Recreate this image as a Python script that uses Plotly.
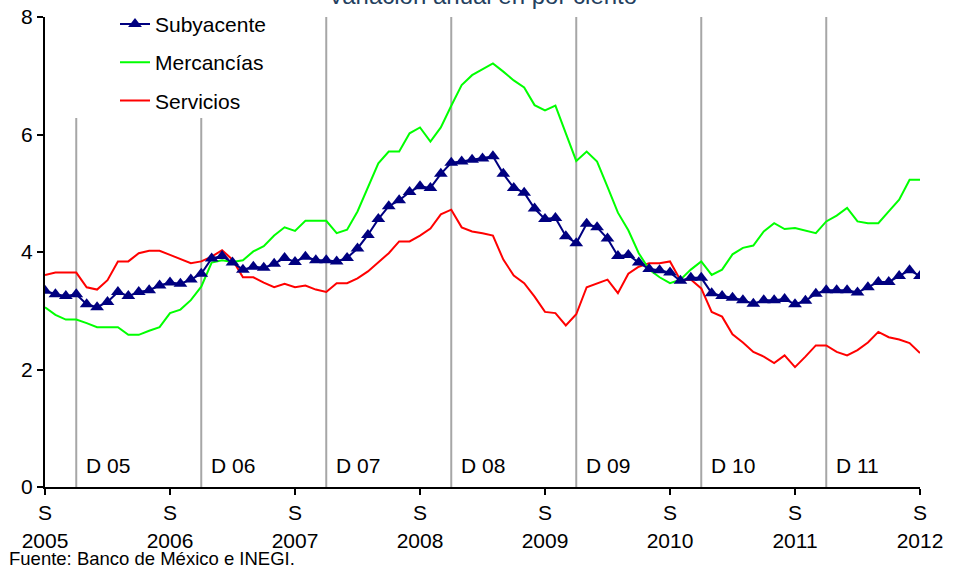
import pandas as pd
import plotly.graph_objects as go

# Monthly categories, Sep 2005 .. Sep 2012
months = list(pd.period_range("2005-09", "2012-09", freq="M").strftime("%Y-%m"))

subyacente = [3.34, 3.28, 3.25, 3.28, 3.11, 3.06, 3.15, 3.32, 3.25, 3.32, 3.35, 3.43,
              3.48, 3.46, 3.53, 3.63, 3.89, 3.93, 3.82, 3.70, 3.75, 3.73, 3.80, 3.90,
              3.83, 3.92, 3.86, 3.86, 3.84, 3.90, 4.06, 4.29, 4.56, 4.78, 4.88, 5.02,
              5.12, 5.09, 5.33, 5.52, 5.54, 5.57, 5.59, 5.63, 5.33, 5.09, 5.01, 4.74,
              4.56, 4.58, 4.27, 4.15, 4.48, 4.42, 4.23, 3.93, 3.95, 3.82, 3.71, 3.69,
              3.65, 3.51, 3.56, 3.56, 3.30, 3.25, 3.22, 3.18, 3.12, 3.18, 3.18, 3.20,
              3.11, 3.17, 3.29, 3.35, 3.35, 3.35, 3.31, 3.40, 3.49, 3.49, 3.59, 3.69,
              3.59]

mercancias = [3.06, 2.93, 2.85, 2.85, 2.79, 2.72, 2.72, 2.72, 2.59, 2.59, 2.66, 2.72,
              2.96, 3.02, 3.18, 3.41, 3.82, 3.86, 3.83, 3.86, 4.01, 4.10, 4.28, 4.42,
              4.36, 4.53, 4.53, 4.53, 4.32, 4.38, 4.69, 5.10, 5.51, 5.71, 5.71, 6.02,
              6.12, 5.88, 6.12, 6.49, 6.84, 7.01, 7.11, 7.21, 7.07, 6.92, 6.80, 6.50,
              6.41, 6.49, 6.02, 5.55, 5.71, 5.54, 5.11, 4.67, 4.37, 3.98, 3.70, 3.57,
              3.47, 3.53, 3.70, 3.84, 3.61, 3.70, 3.96, 4.07, 4.11, 4.35, 4.49, 4.39,
              4.41, 4.36, 4.32, 4.52, 4.62, 4.75, 4.52, 4.49, 4.49, 4.69, 4.89, 5.23,
              5.23]

servicios = [3.61, 3.65, 3.65, 3.65, 3.40, 3.36, 3.52, 3.84, 3.84, 3.98, 4.02, 4.02,
             3.95, 3.88, 3.81, 3.84, 3.92, 4.03, 3.87, 3.57, 3.57, 3.48, 3.40, 3.46,
             3.40, 3.43, 3.36, 3.32, 3.47, 3.47, 3.55, 3.67, 3.82, 3.98, 4.18, 4.18,
             4.28, 4.40, 4.64, 4.72, 4.42, 4.35, 4.32, 4.28, 3.87, 3.60, 3.47, 3.24,
             2.98, 2.96, 2.75, 2.94, 3.40, 3.47, 3.53, 3.30, 3.63, 3.75, 3.81, 3.81,
             3.84, 3.52, 3.53, 3.38, 2.98, 2.90, 2.60, 2.46, 2.30, 2.22, 2.11, 2.24,
             2.04, 2.22, 2.41, 2.41, 2.30, 2.24, 2.33, 2.46, 2.64, 2.55, 2.51, 2.45,
             2.28]

tick_months = ["2005-09", "2006-09", "2007-09", "2008-09", "2009-09", "2010-09", "2011-09", "2012-09"]
tick_labels = ["S<br>2005", "S<br>2006", "S<br>2007", "S<br>2008", "S<br>2009", "S<br>2010", "S<br>2011", "S<br>2012"]

sep_months = ["2005-12", "2006-12", "2007-12", "2008-12", "2009-12", "2010-12", "2011-12"]
sep_labels = ["D 05", "D 06", "D 07", "D 08", "D 09", "D 10", "D 11"]
sep_tops = [6.28, 6.28, 8, 8, 8, 8, 8]

FONT = "Liberation Sans, Arial, sans-serif"

fig = go.Figure()

for m, top in zip(sep_months, sep_tops):
    fig.add_trace(go.Scatter(x=[m, m], y=[0, top], mode="lines",
                             line=dict(color="#A6A6A6", width=2),
                             showlegend=False, hoverinfo="skip"))

fig.add_trace(go.Scatter(x=months, y=servicios, name="Servicios", mode="lines",
                         line=dict(color="#FF0000", width=2),
                         legendgroup="c", legendrank=3))
fig.add_trace(go.Scatter(x=months, y=mercancias, name="Mercancías", mode="lines",
                         line=dict(color="#00FF00", width=2),
                         legendgroup="b", legendrank=2))
fig.add_trace(go.Scatter(x=months, y=subyacente, name="Subyacente", mode="lines+markers",
                         line=dict(color="#000080", width=2),
                         marker=dict(symbol="triangle-up", size=12, color="#000080"),
                         legendgroup="a", legendrank=1))

for m, lab in zip(sep_months, sep_labels):
    fig.add_annotation(x=m, y=0.37, xref="x", yref="y", text=lab, showarrow=False,
                       xanchor="left", xshift=8, font=dict(size=21, color="black", family=FONT))

fig.add_annotation(x=0.5, y=1.0, xref="paper", yref="paper", yshift=6,
                   text="Variación anual en por ciento", showarrow=False,
                   xanchor="center", yanchor="bottom",
                   font=dict(size=24, color="#243F60", family=FONT))

fig.add_annotation(x=-38 / 875, y=(487 - 558) / 470, xref="paper", yref="paper",
                   text="Fuente: Banco de México e INEGI.", showarrow=False,
                   xanchor="left", yanchor="middle",
                   font=dict(size=18.5, color="black", family=FONT))

fig.update_layout(
    width=953, height=568,
    margin=dict(l=45, r=33, t=17, b=81, autoexpand=False),
    paper_bgcolor="white", plot_bgcolor="white",
    font=dict(family=FONT, size=21, color="black"),
    showlegend=True,
    legend=dict(x=0.080, y=1.028, xanchor="left", yanchor="top",
                traceorder="grouped", tracegroupgap=8,
                bgcolor="rgba(0,0,0,0)", font=dict(size=21, family=FONT)),
    xaxis=dict(type="category", categoryorder="array", categoryarray=months,
               range=[0, len(months) - 1],
               tickmode="array", tickvals=tick_months, ticktext=tick_labels,
               showgrid=False, zeroline=False, showline=True, linecolor="black", linewidth=2,
               ticks="outside", ticklen=6, tickcolor="black", tickwidth=2,
               tickfont=dict(size=21, family=FONT), ticklabeloverflow="allow"),
    yaxis=dict(range=[0, 8], tickvals=[0, 2, 4, 6, 8],
               showgrid=False, zeroline=False, showline=True, linecolor="black", linewidth=2,
               ticks="outside", ticklen=6, tickcolor="black", tickwidth=2,
               tickfont=dict(size=21, family=FONT), ticklabeloverflow="allow"),
)

# remove the default 8px page margin so the 953x568 figure fills the window exactly
fig.write_html("out.html", config={"displayModeBar": False},
               post_script="document.body.style.margin='0px';")
